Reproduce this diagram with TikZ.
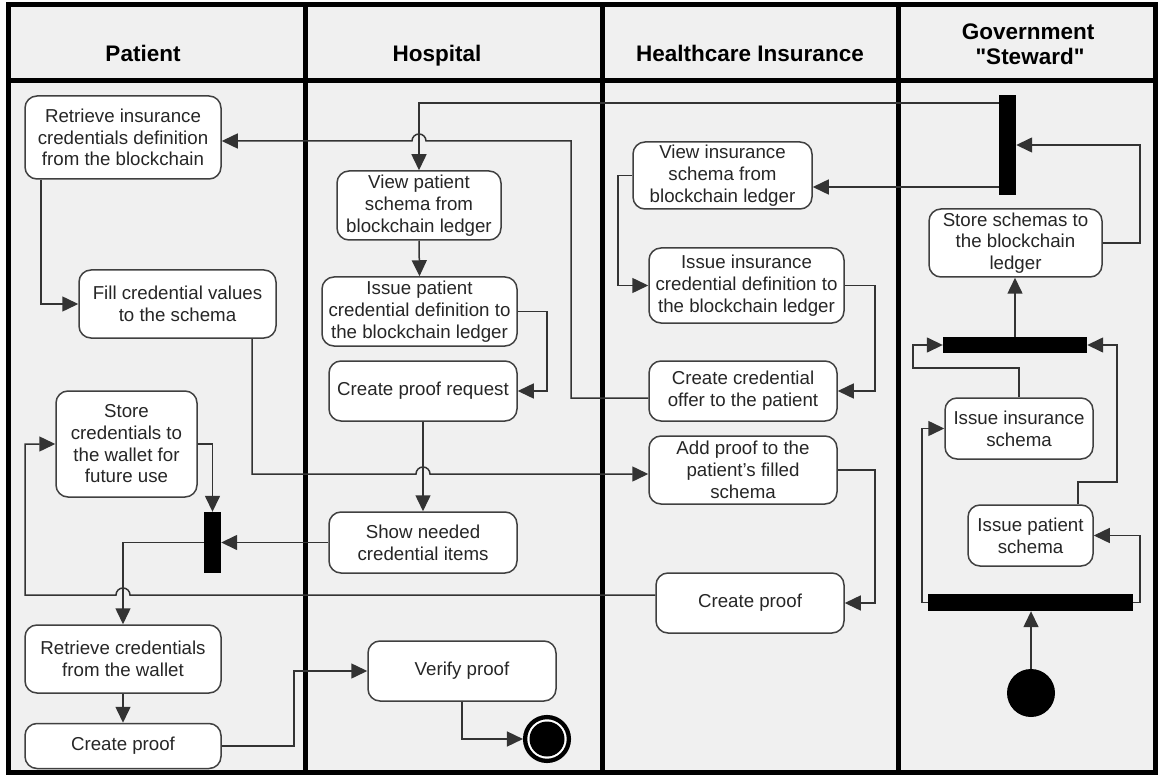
\documentclass[tikz,border=0pt]{standalone}
\usepackage{fontspec}
\setmainfont{Liberation Sans}
\newfontfamily\plainquotes{Liberation Sans}[Ligatures=TeXOff]
\usetikzlibrary{arrows.meta}

\definecolor{lanefill}{HTML}{F0F0F0}
\definecolor{edgecol}{HTML}{333333}
\definecolor{boxedge}{HTML}{404040}
\definecolor{txt}{HTML}{262626}

\begin{document}
\begin{tikzpicture}[x=1pt,y=-1pt,
  act/.style={draw=boxedge, fill=white, line width=1.5pt, rounded corners=12pt,
    align=center, inner sep=0pt, text=txt, font=\fontsize{18.7}{21.7}\selectfont},
  bar/.style={fill=black, draw=none, inner sep=0pt},
  flow/.style={draw=edgecol, line width=1.5pt, -{Triangle[length=16pt,width=15pt]}},
  lanehead/.style={font=\fontsize{22.5}{25}\selectfont\bfseries, text=black, align=center, inner sep=0pt},
]
% canvas and swimlane frame
\useasboundingbox (0,0) rectangle (1158,775);
\fill[white] (0,0) rectangle (1158,775);
\fill[lanefill] (8,5) rectangle (1155,772);
\draw[line width=5pt] (8,5) rectangle (1155,772);
\draw[line width=5pt] (8,80.5) -- (1155,80.5);
\foreach \lx in {305.5,602,898.5} \draw[line width=5pt] (\lx,5) -- (\lx,772);

% lane titles
\node[lanehead, anchor=base] (tpat) at (143,62) {Patient};
\node[lanehead, anchor=base] (thos) at (437,62) {Hospital};
\node[lanehead, anchor=base] (tins) at (750,62) {Healthcare Insurance};
\node[lanehead, anchor=base] (tgov1) at (1028,40) {Government};
\node[lanehead, anchor=base] (tgov2) at (1030,65) {\plainquotes\bfseries "Steward"};

% Patient lane
\node[act, minimum width=196pt, minimum height=83pt] (n1) at (123,137.5) {Retrieve insurance\\credentials definition\\from the blockchain};
\node[act, minimum width=197pt, minimum height=68pt] (n2) at (177.5,304) {Fill credential values\\to the schema};
\node[act, minimum width=141pt, minimum height=106pt] (n3) at (126.5,444) {Store\\credentials to\\the wallet for\\future use};
\node[bar, minimum width=17pt, minimum height=61pt] (pbar) at (212.5,542.5) {};
\node[act, minimum width=196pt, minimum height=68pt] (n4) at (123,659) {Retrieve credentials\\from the wallet};
\node[act, minimum width=196pt, minimum height=45pt] (n5) at (123,746) {Create proof};

% Hospital lane
\node[act, minimum width=164pt, minimum height=69pt] (h1) at (419,205.5) {View patient\\schema from\\blockchain ledger};
\node[act, minimum width=195pt, minimum height=69pt] (h2) at (419.5,311.5) {Issue patient\\credential definition to\\the blockchain ledger};
\node[act, minimum width=188pt, minimum height=60pt] (h3) at (423,391) {Create proof request};
\node[act, minimum width=188pt, minimum height=61pt] (h4) at (423,542.5) {Show needed\\credential items};
\node[act, minimum width=188pt, minimum height=60pt] (h5) at (462,671) {Verify proof};
\node[circle, draw=black, line width=4.3pt, fill=white, minimum size=43.8pt, inner sep=0pt] (endc) at (547,739) {};
\fill[black] (endc.center) circle (17.5pt);

% Healthcare insurance lane
\node[act, minimum width=179pt, minimum height=67pt] (i1) at (722.5,175.5) {View insurance\\schema from\\blockchain ledger};
\node[act, minimum width=195pt, minimum height=75pt] (i2) at (746.5,285.5) {Issue insurance\\credential definition to\\the blockchain ledger};
\node[act, minimum width=188pt, minimum height=60pt] (i3) at (743,391) {Create credential\\offer to the patient};
\node[act, minimum width=188pt, minimum height=68pt] (i4) at (743,470) {\plainquotes Add proof to the\\patient's filled\\schema};
\node[act, minimum width=188pt, minimum height=60pt] (i5) at (750,603) {Create proof};

% Government steward lane
\node[bar, minimum width=17pt, minimum height=100pt] (fork1) at (1007.5,145) {};
\node[act, minimum width=173pt, minimum height=68pt] (g1) at (1015.5,243) {Store schemas to\\the blockchain\\ledger};
\node[bar, minimum width=144pt, minimum height=16pt] (jbar) at (1015,345) {};
\node[act, minimum width=148pt, minimum height=61pt] (g2) at (1019,428.5) {Issue insurance\\schema};
\node[act, minimum width=125pt, minimum height=61pt] (g3) at (1030.5,535.5) {Issue patient\\schema};
\node[bar, minimum width=205pt, minimum height=17pt] (fbar) at (1030.5,602.5) {};
\node[circle, fill=black, minimum size=48pt, inner sep=0pt] (startc) at (1031,693) {};

% flows of the steward
\draw[flow] (startc.north) -- (startc.north |- fbar.south);
\draw[flow] (fbar.west) -- (922,602.5) |- (g2.west);
\draw[flow] (fbar.east) -- (1140,602.5) |- (g3.east);
\draw[flow] (g2.north) -- (1019,368) -| (913,345) -- (jbar.west);
\draw[flow] (g3.north -| 1078,0) -- (1078,482) -| (1117,345) -- (jbar.east);
\draw[flow] (jbar.north) -- (jbar.north |- g1.south);
\draw[flow] (g1.east) -- (1140,243) |- (fork1.east);

% flows leaving the fork
\draw[flow] (fork1.west |- 0,103) -| (h1.north);
\draw[flow] (fork1.west |- 0,187) -- (i1.east |- 0,187);

% insurance flows
\draw[flow] (i1.west) -- (618,175.5) |- (i2.west);
\draw[flow] (i2.east) -- (875,285.5) |- (i3.east);
\draw[flow] (i3.west |- 0,398) -- (571,398) -- (571,141) -- (426,141)
  arc[start angle=0, end angle=180, radius=7pt] -- (n1.east |- 0,141);
\draw[flow] (i4.east) -- (875,470) |- (i5.east);
\draw[flow] (i5.west |- 0,595) -- (130,595)
  arc[start angle=0, end angle=180, radius=7pt] -- (25,595) |- (n3.west);

% hospital flows
\draw[flow] (h1.south) -- (h2.north);
\draw[flow] (h2.east) -- (547,311.5) |- (h3.east);
\draw[flow] (h3.south) -- (h4.north);
\draw[flow] (h4.west) -- (pbar.east);
\draw[flow] (h5.south) |- (endc.west);

% patient flows
\draw[flow] (n1.south -| 41,0) |- (n2.west);
\draw[flow] (n2.south -| 252,0) -- (252,474) -- (416,474)
  arc[start angle=180, end angle=0, radius=7pt] -- (i4.west |- 0,474);
\draw[flow] (n3.east) -| (pbar.north);
\draw[flow] (pbar.west) -| (n4.north);
\draw[flow] (n4.south) -- (n5.north);
\draw[flow] (n5.east) -- (294,746) |- (h5.west);
\end{tikzpicture}
\end{document}
